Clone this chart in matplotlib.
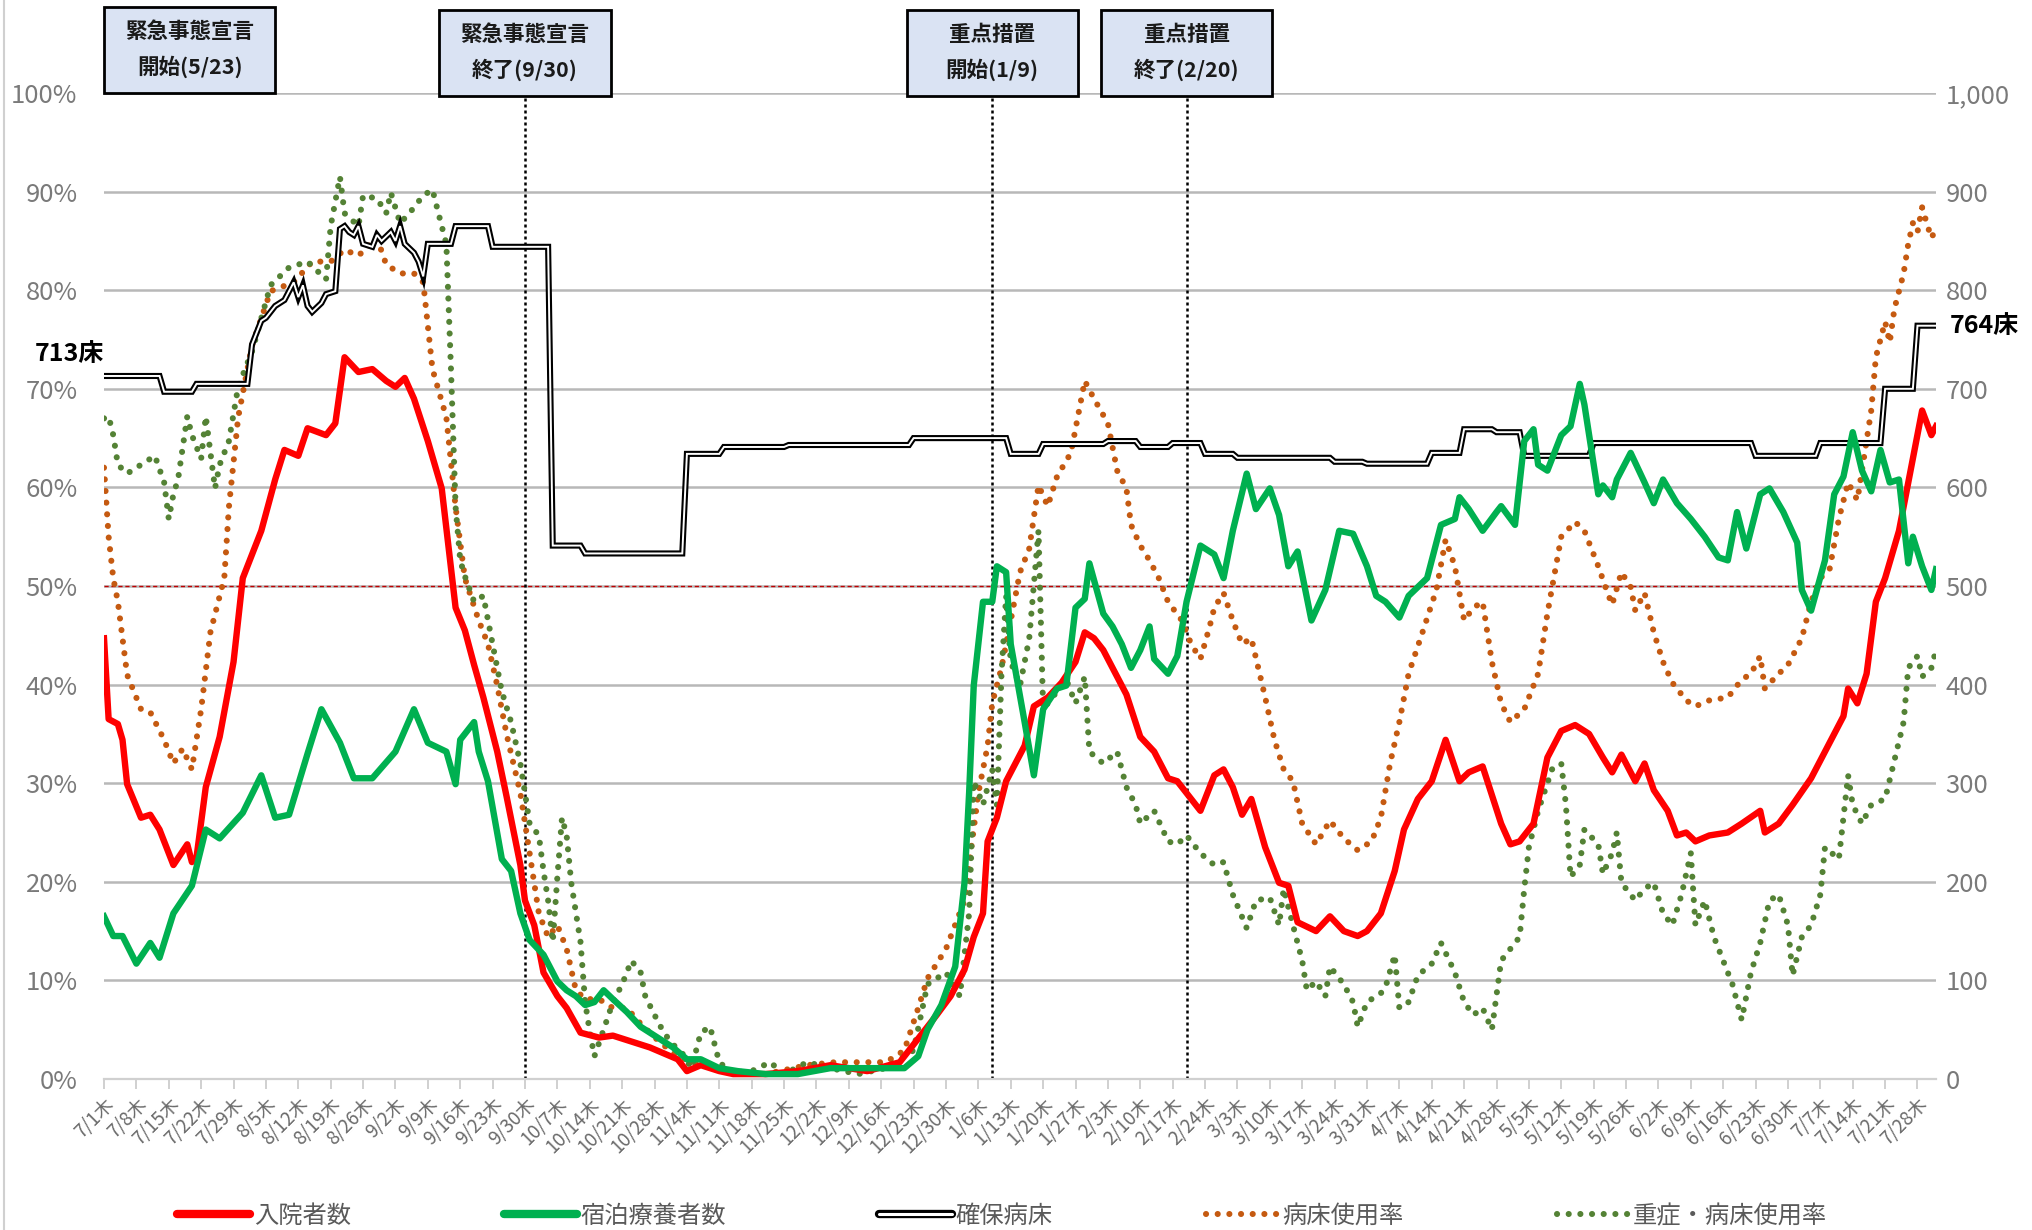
import matplotlib
matplotlib.use("Agg")
import matplotlib.pyplot as plt
import matplotlib.transforms as mtransforms
from matplotlib.lines import Line2D
from matplotlib.patches import Rectangle
from matplotlib.legend_handler import HandlerTuple

plt.rcParams['font.family'] = ['Noto Sans CJK JP', 'DejaVu Sans']

# ---- data (x = days since 2021-07-01) ----
hosp_days = [0, 1, 3, 4, 5, 8, 10, 12, 15, 18, 19, 20, 22, 25, 28, 30, 34, 37, 39, 42, 44, 48, 50, 52,
             55, 58, 61, 63, 65, 67, 70, 73, 76, 78, 80, 82, 85, 87, 90, 91, 93, 95, 98, 100, 103, 107,
             110, 114, 118, 121, 124, 126, 129, 133, 136, 143, 150, 157, 165, 172, 176, 180, 183, 186,
             188, 190, 191, 193, 195, 197, 199, 201, 204, 207, 210, 212, 214, 216, 218, 221, 224, 227,
             230, 232, 235, 237, 240, 242, 244, 246, 248, 251, 254, 256, 258, 262, 265, 268, 271, 273,
             276, 279, 281, 284, 287, 290, 293, 295, 298, 302, 304, 306, 309, 312, 315, 318, 321, 324,
             326, 328, 331, 333, 335, 338, 340, 342, 344, 347, 351, 354, 358, 359, 362, 365, 369, 372,
             374, 376, 377, 379, 381, 383, 385, 388, 390, 393, 395, 396]
hosp_vals = [447, 365, 360, 344, 299, 265, 268, 253, 217, 238, 220, 225, 296, 347, 423, 508, 556, 608,
             638, 632, 660, 653, 665, 732, 717, 720, 708, 702, 711, 690, 647, 599, 478, 455, 420, 387,
             332, 287, 217, 181, 156, 108, 84, 72, 47, 42, 44, 38, 32, 26, 20, 8, 14, 8, 5, 5, 8, 14, 8,
             17, 41, 65, 84, 111, 144, 168, 241, 265, 302, 320, 338, 378, 387, 402, 423, 453, 447, 435,
             417, 390, 347, 332, 305, 302, 284, 272, 308, 314, 296, 268, 284, 235, 199, 196, 159, 150,
             165, 150, 145, 150, 168, 211, 253, 284, 302, 344, 302, 311, 317, 259, 238, 241, 259, 326,
             353, 359, 350, 326, 311, 329, 302, 320, 293, 272, 247, 250, 241, 247, 250, 259, 272, 250,
             259, 278, 305, 332, 350, 368, 396, 381, 411, 484, 508, 556, 605, 678, 653, 662]

hotel_days = [0, 2, 4, 7, 10, 12, 15, 19, 22, 25, 30, 34, 37, 40, 44, 47, 51, 54, 58, 63, 67, 70, 74,
              76, 77, 80, 81, 83, 86, 88, 90, 92, 95, 98, 100, 102, 104, 106, 108, 110, 113, 116, 120,
              123, 126, 129, 133, 137, 143, 150, 157, 166, 173, 176, 178, 181, 184, 186, 187, 188, 190,
              192, 193, 195, 196, 199, 201, 203, 206, 208, 210, 212, 213, 216, 218, 220, 222, 224, 226,
              227, 230, 232, 234, 237, 240, 242, 244, 247, 249, 252, 254, 256, 258, 261, 264, 267, 270,
              273, 275, 277, 280, 282, 286, 289, 292, 293, 295, 298, 301, 302, 305, 307, 309, 310, 312,
              315, 317, 319, 320, 323, 324, 326, 327, 330, 333, 335, 337, 340, 343, 346, 349, 351, 353,
              355, 358, 360, 363, 366, 367, 369, 372, 374, 376, 378, 380, 382, 384, 386, 388, 390, 391,
              393, 395, 396]
hotel_vals = [165, 145, 145, 117, 138, 123, 168, 196, 253, 244, 270, 308, 265, 268, 330, 375, 341, 305,
              305, 332, 375, 341, 332, 299, 344, 362, 332, 302, 223, 211, 168, 141, 126, 99, 90, 84, 75,
              78, 90, 81, 68, 53, 41, 32, 20, 20, 11, 8, 5, 5, 11, 11, 11, 23, 50, 75, 114, 199, 290,
              399, 484, 484, 520, 514, 441, 362, 308, 375, 396, 399, 478, 487, 523, 472, 459, 441, 417,
              435, 459, 426, 411, 429, 484, 541, 532, 508, 556, 614, 578, 599, 572, 520, 535, 465, 496,
              556, 553, 520, 490, 484, 468, 490, 508, 562, 568, 590, 578, 556, 575, 581, 562, 647, 659,
              623, 617, 653, 662, 705, 684, 593, 602, 590, 608, 635, 605, 584, 608, 584, 568, 550, 529,
              526, 575, 538, 593, 599, 575, 544, 496, 475, 526, 593, 611, 656, 617, 596, 638, 605, 608,
              523, 550, 520, 496, 517]

beds_days = [0, 12, 13, 19, 20, 31, 32, 34, 35, 37, 39, 40, 41, 42, 43, 44, 45, 47, 48, 50, 51, 52, 53,
             54, 55, 56, 58, 59, 60, 62, 63, 64, 65, 67, 68, 69, 70, 75, 76, 83, 84, 96, 97, 103, 104,
             125, 126, 133, 134, 147, 148, 174, 175, 195, 196, 202, 203, 216, 217, 223, 224, 230, 231,
             237, 238, 244, 245, 265, 266, 272, 273, 286, 287, 293, 294, 300, 301, 306, 307, 321, 322,
             356, 357, 370, 371, 384, 385, 391, 392, 396]
beds_vals = [713, 713, 697, 697, 705, 705, 745, 769, 772, 784, 790, 799, 808, 793, 805, 784, 778, 787,
             796, 799, 862, 865, 859, 856, 865, 847, 844, 856, 850, 859, 850, 865, 847, 838, 829, 814,
             847, 847, 865, 865, 844, 844, 541, 541, 533, 533, 634, 634, 641, 641, 643, 643, 650, 650,
             634, 634, 644, 644, 647, 647, 641, 641, 645, 645, 634, 634, 630, 630, 626, 626, 624, 624,
             635, 635, 659, 659, 656, 656, 632, 632, 645, 645, 632, 632, 645, 645, 700, 700, 764, 764]

occ_days = [0, 1, 2, 3, 5, 8, 10, 13, 15, 17, 19, 21, 23, 26, 27, 29, 32, 36, 41, 45, 49, 52, 55, 59,
            61, 64, 67, 69, 71, 74, 76, 78, 81, 83, 85, 87, 90, 92, 94, 96, 98, 100, 102, 104, 107, 110,
            113, 116, 120, 124, 129, 136, 143, 152, 158, 169, 173, 176, 178, 182, 186, 189, 191, 192,
            194, 196, 198, 200, 202, 204, 206, 209, 211, 212, 214, 217, 219, 221, 222, 224, 226, 228,
            230, 233, 235, 237, 239, 240, 242, 244, 246, 248, 251, 253, 255, 257, 259, 262, 265, 268,
            271, 274, 276, 278, 280, 282, 285, 288, 290, 292, 294, 296, 298, 300, 302, 304, 307, 310,
            312, 315, 318, 320, 323, 325, 326, 328, 330, 331, 333, 335, 337, 339, 342, 344, 347, 351,
            354, 356, 358, 359, 362, 364, 367, 369, 371, 373, 375, 377, 379, 380, 382, 383, 385, 386,
            387, 389, 390, 391, 392, 393, 394, 395, 396]
occ_vals = [62, 55, 50.8, 48.4, 41, 37.5, 37.2, 34.4, 32, 33.5, 31.4, 37.5, 45.3, 50.8, 58, 67.1, 74.4,
            79.9, 80.8, 82.9, 82.9, 84.1, 83.5, 85.3, 82.6, 81.7, 81.7, 80.8, 72, 67.1, 58, 50.8, 46.5,
            44.1, 39.9, 35, 29, 22.9, 16.8, 14.4, 15.6, 13.2, 9, 8.1, 8.1, 7.2, 7.2, 5.6, 3.8, 2.3, 1.4,
            0.8, 0.5, 1.4, 1.7, 1.7, 2.9, 7.2, 10.2, 13.2, 18.1, 29, 33.8, 38.1, 41.7, 46.5, 51.4, 53.8,
            60.2, 58.1, 61.1, 63.5, 68.4, 70.8, 69, 66.5, 61.7, 59.9, 56.2, 54.1, 52.6, 50.8, 48.4, 46.5,
            44.1, 42.6, 45.9, 47.8, 49.3, 46.5, 44.1, 44.7, 38.7, 34.4, 31.4, 30.2, 25.9, 23.8, 26.2,
            24.4, 23.2, 24.1, 26.5, 32, 36.2, 41.1, 45.3, 49.6, 54.7, 52, 46.5, 47.8, 48.4, 42.3, 38.1,
            36.2, 37.5, 41.1, 47.2, 55, 56.5, 55.6, 52, 49.3, 48.1, 51.4, 49.9, 47.5, 49.3, 45.3, 42.3,
            40.2, 38.4, 37.8, 38.4, 38.7, 40.5, 41.1, 42.9, 39.6, 41.1, 42, 44.7, 48.4, 50.8, 51.7, 56.8,
            60.5, 58.7, 61.7, 67.8, 73.2, 76.8, 74.7, 78.1, 81.7, 84.7, 86.8, 85.9, 88.4, 86.8, 85.3,
            86.2]

sev_days = [0, 1, 2, 3, 5, 7, 9, 11, 13, 14, 15, 16, 18, 19, 21, 22, 24, 25, 27, 29, 32, 36, 40, 44,
            48, 49, 51, 52, 55, 56, 59, 61, 62, 64, 66, 69, 71, 73, 74, 75, 76, 77, 78, 80, 82, 84, 86,
            88, 90, 91, 92, 94, 95, 96, 97, 98, 99, 100, 101, 103, 104, 105, 106, 108, 110, 112, 114,
            116, 117, 119, 121, 123, 125, 127, 129, 131, 133, 136, 140, 144, 147, 152, 157, 163, 169,
            175, 178, 182, 185, 187, 188, 190, 192, 193, 194, 195, 196, 198, 200, 202, 203, 205, 208,
            210, 212, 213, 216, 219, 221, 223, 224, 227, 230, 232, 234, 237, 240, 242, 244, 247, 249,
            252, 254, 255, 257, 259, 260, 262, 264, 265, 268, 270, 271, 273, 276, 277, 279, 280, 282,
            284, 287, 289, 292, 294, 296, 298, 300, 302, 304, 306, 307, 308, 310, 313, 315, 316, 317,
            319, 320, 323, 324, 326, 327, 328, 331, 333, 335, 337, 339, 341, 343, 344, 346, 348, 350,
            352, 354, 356, 358, 360, 362, 364, 365, 367, 369, 371, 372, 375, 377, 378, 380, 382, 385,
            387, 389, 390, 392, 393, 395, 396]
sev_vals = [67, 67.2, 65.3, 62.3, 61.4, 62, 62.6, 63.2, 60.5, 56.8, 59.3, 60.8, 67.2, 65.3, 62.9, 67.2,
            59.9, 62.3, 64.7, 70.2, 73.8, 80.5, 82.3, 82.9, 81.1, 86.5, 91.5, 87.8, 86.5, 89.6, 89.3,
            87.8, 89.9, 86.8, 87.8, 89.6, 90.2, 86.5, 84.7, 72, 58, 52.6, 51, 48.4, 49, 44.1, 39.3, 36.2,
            32, 29, 25.9, 24.7, 21.1, 18.1, 13.9, 20.5, 26.5, 24.7, 19.9, 13.9, 7.8, 4.8, 2.3, 5, 7.8,
            9.6, 12, 10.8, 8.4, 6.5, 4.7, 3.5, 2.6, 1.1, 4.7, 5.3, 1.7, 0.5, 0.8, 1.7, 0.5, 1.7, 1.1,
            0.5, 1.1, 2.9, 9.6, 10.8, 8.4, 16.8, 30.2, 27.8, 31.4, 27.8, 41.1, 49, 42.3, 39.9, 44.7,
            55.6, 37.5, 38.7, 40.5, 38.1, 40.8, 33.2, 32, 33.2, 29.6, 27.8, 25.9, 27.2, 24.1, 23.8,
            24.7, 22.9, 21.7, 22, 18.7, 15.3, 18.1, 18.4, 15.6, 19.3, 15.6, 12, 9, 9.9, 8.4, 11.4, 9.6,
            7.8, 5.3, 7.8, 8.7, 9.3, 12.6, 7.2, 7.8, 10.5, 11.7, 13.8, 10.8, 7.8, 6.5, 7.2, 5, 12, 13.2,
            14.4, 19.3, 23.5, 27.2, 31.4, 32, 27.8, 20.5, 21.7, 25.3, 23.8, 20.8, 22.9, 25, 19.9, 18.1,
            19.3, 19.9, 16.8, 15.6, 18.7, 22.9, 15.6, 18.1, 14.4, 12, 9.6, 6, 10.8, 13.8, 18.1, 18.7,
            15.6, 10.5, 14.4, 15.6, 18.7, 23.5, 22.3, 30.8, 27.8, 25.9, 27.8, 28.4, 32.3, 36.2, 41.7,
            42.9, 40.8, 41.7, 43.5]

week_ticks = list(range(0, 393, 7))
week_labels = ['7/1木', '7/8木', '7/15木', '7/22木', '7/29木', '8/5木', '8/12木', '8/19木', '8/26木',
               '9/2木', '9/9木', '9/16木', '9/23木', '9/30木', '10/7木', '10/14木', '10/21木',
               '10/28木', '11/4木', '11/11木', '11/18木', '11/25木', '12/2木', '12/9木', '12/16木',
               '12/23木', '12/30木', '1/6木', '1/13木', '1/20木', '1/27木', '2/3木', '2/10木',
               '2/17木', '2/24木', '3/3木', '3/10木', '3/17木', '3/24木', '3/31木', '4/7木',
               '4/14木', '4/21木', '4/28木', '5/5木', '5/12木', '5/19木', '5/26木', '6/2木',
               '6/9木', '6/16木', '6/23木', '6/30木', '7/7木', '7/14木', '7/21木', '7/28木']
pct_ticks = list(range(0, 101, 10))
pct_labels = ['0%', '10%', '20%', '30%', '40%', '50%', '60%', '70%', '80%', '90%', '100%']
cnt_ticks = list(range(0, 1001, 100))
cnt_labels = ['0', '100', '200', '300', '400', '500', '600', '700', '800', '900', '1,000']

# measures: (day of vertical line / box centre, first line, second line, has line)
events = [(18.5, '緊急事態宣言', '開始(5/23)', False),
          (91, '緊急事態宣言', '終了(9/30)', True),
          (192, '重点措置', '開始(1/9)', True),
          (234, '重点措置', '終了(2/20)', True)]

# ---- styling ----
RED = '#FF0000'
GREEN = '#00B050'
BROWN = '#C55A11'
DKGREEN = '#548235'
GRID = '#b8b8b8'
TXT = '#7a7a7a'

W, H = 2033, 1230
fig = plt.figure(figsize=(W / 100, H / 100), dpi=100)
L, R, T, B = 104, 1936, 93, 1079
ax = fig.add_axes([L / W, 1 - B / H, (R - L) / W, (B - T) / H])
ax2 = ax.twinx()

ax.set_xlim(0, 396)
ax.set_ylim(0, 100)
ax2.set_ylim(0, 1000)

for a in (ax, ax2):
    for s in a.spines.values():
        s.set_visible(False)
ax.spines['bottom'].set_visible(True)
ax.spines['bottom'].set_color('#d0d0d0')
ax.spines['bottom'].set_linewidth(1.6)

ax.set_yticks(pct_ticks)
ax.set_yticklabels(pct_labels)
ax2.set_yticks(cnt_ticks)
ax2.set_yticklabels(cnt_labels)
ax.tick_params(axis='y', length=0, pad=19, labelsize=18.5, labelcolor=TXT)
ax2.tick_params(axis='y', length=0, pad=7, labelsize=18.5, labelcolor=TXT)
ax.yaxis.grid(True, color=GRID, lw=1.8)
ax.set_axisbelow(True)

ax.set_xticks(week_ticks)
ax.set_xticklabels(week_labels, rotation=45, ha='right', rotation_mode='anchor')
ax.tick_params(axis='x', length=7, width=1.4, color='#d0d0d0', pad=4, labelsize=13.5,
               labelcolor='#6a6a6a')

# 50% reference line
ax.axhline(50, color='#C00000', lw=1.0, ls=(0, (3, 2)), zorder=1.5)

# vertical event lines
for day, _, _, has_line in events:
    if has_line:
        ax.plot([day, day], [0, 100], color='black', lw=1.8, ls=(0, (1.2, 1.2)), zorder=1.6)

# percentage series (left axis)
dot_kw = dict(lw=4.4, ls=(0, (0.01, 1.9)), dash_capstyle='round')
ax.plot(occ_days, occ_vals, color=BROWN, zorder=3, **dot_kw)
ax.plot(sev_days, sev_vals, color=DKGREEN, zorder=3, **dot_kw)

# count series (right axis)
ax2.plot(beds_days, beds_vals, color='black', lw=4.4, solid_joinstyle='miter', zorder=2)
ax2.plot(beds_days, beds_vals, color='white', lw=1.4, solid_joinstyle='miter', zorder=2.1)
ax2.plot(hosp_days, hosp_vals, color=RED, lw=4.6, solid_joinstyle='round', zorder=3)
ax2.plot(hotel_days, hotel_vals, color=GREEN, lw=4.6, solid_joinstyle='round', zorder=3)

# bed count labels at both ends
ax2.annotate(f'{beds_vals[0]}床', xy=(beds_days[0], beds_vals[0]), xytext=(-50, 16),
             textcoords='offset points', fontsize=18, fontweight='bold', color='black',
             ha='left', va='center', annotation_clip=False)
ax2.annotate(f'{beds_vals[-1]}床', xy=(beds_days[-1], beds_vals[-1]), xytext=(10, 0),
             textcoords='offset points', fontsize=18, fontweight='bold', color='black',
             ha='left', va='center', annotation_clip=False)

# event boxes above the plot
blend = mtransforms.blended_transform_factory(ax.transData, ax.transAxes)
box_w = 37
box_h = 86 / (B - T)
for day, line1, line2, has_line in events:
    x0 = day - box_w / 2 if has_line else 0
    y0 = 0.997 if has_line else 1.0
    rect = Rectangle((x0, y0), box_w, box_h, transform=blend, facecolor='#dae3f3',
                     edgecolor='black', lw=2.0, clip_on=False, zorder=10)
    ax.add_patch(rect)
    cx = x0 + box_w / 2
    ax.text(cx, y0 + box_h * 0.72, line1, transform=blend, ha='center', va='center',
            fontsize=15.5, fontweight='bold', color='#1a1a1a', zorder=11, clip_on=False)
    ax.text(cx, y0 + box_h * 0.30, line2, transform=blend, ha='center', va='center',
            fontsize=15.5, fontweight='bold', color='#1a1a1a', zorder=11, clip_on=False)

# legend
handles = [Line2D([], [], color=RED, lw=6, solid_capstyle='round'),
           Line2D([], [], color=GREEN, lw=6, solid_capstyle='round'),
           (Line2D([], [], color='black', lw=6, solid_capstyle='round'),
            Line2D([], [], color='white', lw=2.2, solid_capstyle='round')),
           Line2D([], [], color=BROWN, **dot_kw),
           Line2D([], [], color=DKGREEN, **dot_kw)]
labels = ['入院者数', '宿泊療養者数', '確保病床', '病床使用率', '重症・病床使用率']
leg = fig.legend(handles, labels, loc='center', bbox_to_anchor=(0.493, 0.0115), ncol=5,
                 frameon=False, fontsize=17.5, handlelength=3.0, handletextpad=0.15,
                 columnspacing=6.3, handler_map={tuple: HandlerTuple(ndivide=1, pad=0)})
for t in leg.get_texts():
    t.set_color('#5a5a5a')

# chart frame edge on the left
fig.add_artist(Line2D([0.002, 0.002], [0, 1], transform=fig.transFigure, color='#d0d0d0', lw=1.5))

fig.savefig('out.png', dpi=100, facecolor='white')
